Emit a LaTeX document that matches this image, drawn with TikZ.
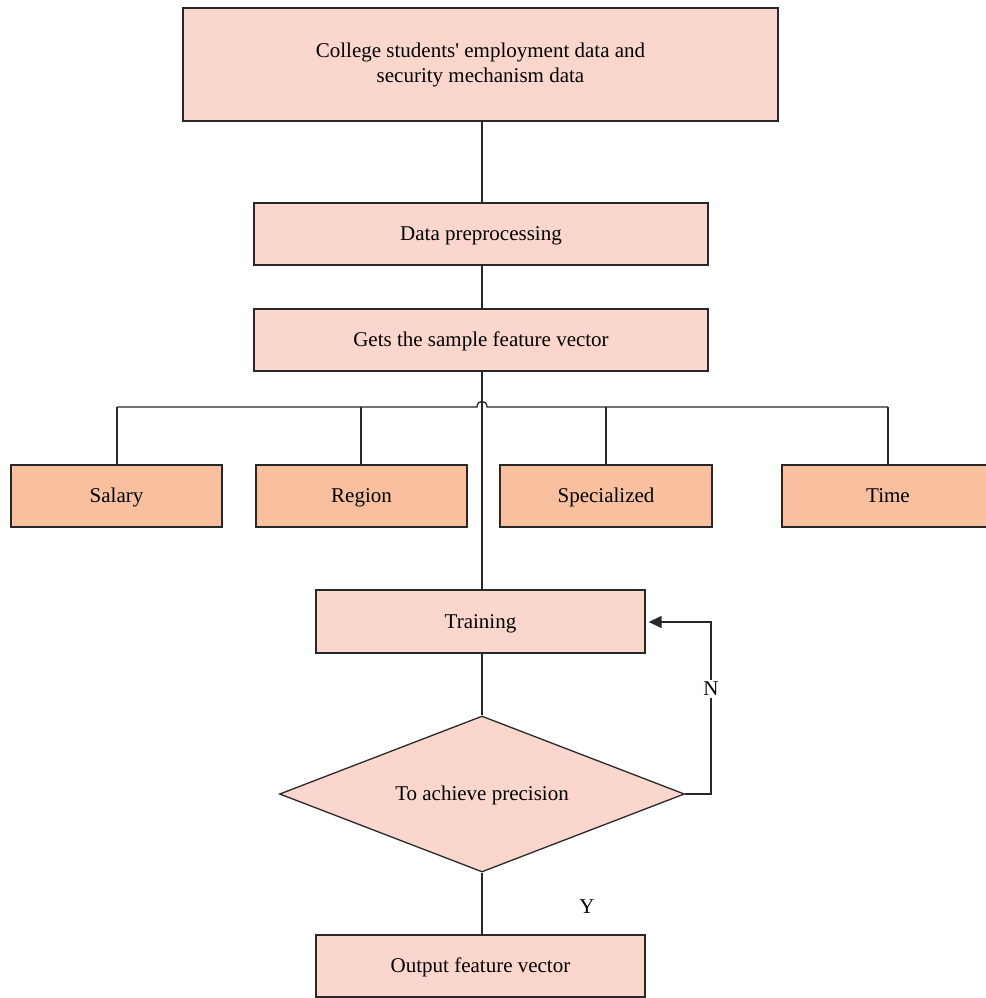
\documentclass[tikz,border=0pt]{standalone}
\usepackage{fontspec}
\setmainfont{Liberation Serif}
\usetikzlibrary{shapes.geometric,arrows.meta}
\definecolor{pinkfill}{RGB}{251,214,205}
\definecolor{orangefill}{RGB}{249,192,160}
\definecolor{edge}{RGB}{40,40,40}
\tikzset{
  box/.style={draw=edge, line width=1.3pt, fill=pinkfill, inner sep=0pt, align=center,
    font=\fontsize{21}{25}\selectfont},
  onel/.style={text height=17pt, text depth=3.5pt},
  catbox/.style={box, onel, fill=orangefill, minimum width=211pt, minimum height=62pt},
  conn/.style={draw=edge, line width=1.3pt},
  lbl/.style={font=\fontsize{21}{25}\selectfont, inner sep=2pt}
}
\begin{document}
\begin{tikzpicture}[x=1pt,y=-1pt]
\useasboundingbox (0,0) rectangle (985,998);
\node[box, minimum width=595pt, minimum height=113pt] (top) at (480.5,64.5)
  {College students\textquotesingle{} employment data and\\security mechanism data};
\node[box, onel, minimum width=454pt, minimum height=62pt] (pre) at (481,234) {Data preprocessing};
\node[box, onel, minimum width=454pt, minimum height=62pt] (feat) at (481,340) {Gets the sample feature vector};
\node[catbox] (salary) at (116.5,496) {Salary};
\node[catbox] (region) at (361.5,496) {Region};
\node[catbox, minimum width=212pt] (spec) at (606,496) {Specialized};
\node[catbox, minimum width=212pt] (time) at (888,496) {Time};
\node[box, onel, minimum width=329pt, minimum height=63pt] (train) at (480.5,621.5) {Training};
\node[box, onel, shape=diamond, aspect=2.6, minimum width=405pt, minimum height=156pt] (dia) at (482,794) {To achieve precision};
\node[box, onel, minimum width=329pt, minimum height=62pt] (out) at (480.5,966) {Output feature vector};

\draw[conn] (top.south -| 482,0) -- (pre.north -| 482,0);
\draw[conn] (pre.south -| 482,0) -- (feat.north -| 482,0);
\draw[conn] (feat.south -| 482,0) -- (train.north -| 482,0);
\coordinate (busL) at (117,407);
\coordinate (busR) at (888,407);
\draw[conn] (busL) -- (477,407) .. controls (477,399.5) and (487,399.5) .. (487,407) -- (busR);
\draw[conn] (busL) -- (salary.north -| busL);
\draw[conn] (361,407) -- (region.north -| 361,0);
\draw[conn] (606,407) -- (spec.north -| 606,0);
\draw[conn] (busR) -- (time.north -| busR);
\draw[conn] (train.south -| 482,0) -- (dia.north);
\draw[conn] (dia.south) -- (out.north -| 482,0);
\coordinate (loopB) at (711,794);
\coordinate (loopT) at (711,622);
\draw[conn, -{Triangle[length=13pt,width=12pt]}, shorten >=3pt] (dia.east) -- (loopB) -- (loopT) -- (train.east |- loopT);
\node[lbl, fill=white] (nlab) at (711,689) {N};
\node[lbl] (ylab) at (587,907) {Y};
\end{tikzpicture}
\end{document}
